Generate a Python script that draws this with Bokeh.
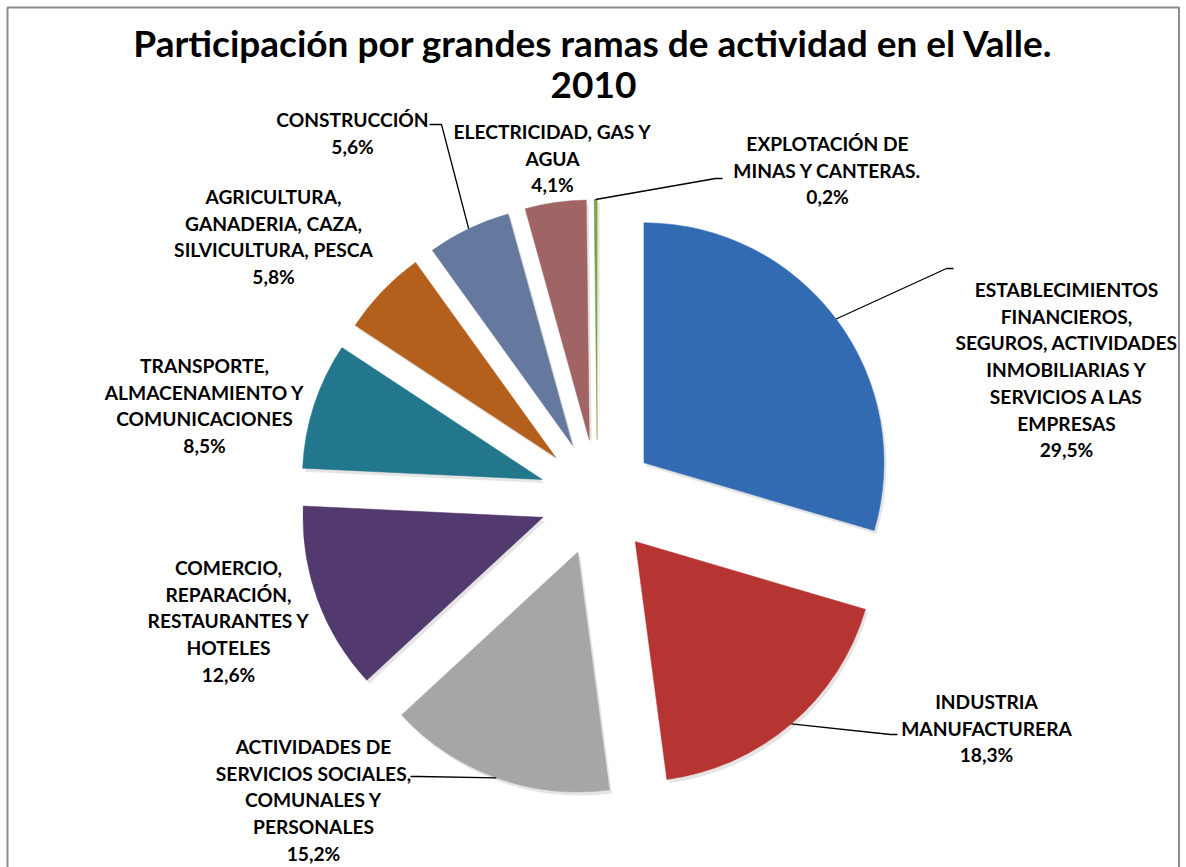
import numpy as np
from bokeh.plotting import figure
from bokeh.models import Range1d, ColumnDataSource
from bokeh.core.properties import value
from bokeh.embed import file_html
from bokeh.resources import INLINE

# ---------------- data ----------------
categories = [
    "ESTABLECIMIENTOS FINANCIEROS, SEGUROS, ACTIVIDADES INMOBILIARIAS Y SERVICIOS A LAS EMPRESAS",
    "INDUSTRIA MANUFACTURERA",
    "ACTIVIDADES DE SERVICIOS SOCIALES, COMUNALES Y PERSONALES",
    "COMERCIO, REPARACIÓN, RESTAURANTES Y HOTELES",
    "TRANSPORTE, ALMACENAMIENTO Y COMUNICACIONES",
    "AGRICULTURA, GANADERIA, CAZA, SILVICULTURA, PESCA",
    "CONSTRUCCIÓN",
    "ELECTRICIDAD, GAS Y AGUA",
    "EXPLOTACIÓN DE MINAS Y CANTERAS.",
]
shares = [29.5, 18.3, 15.2, 12.6, 8.5, 5.8, 5.6, 4.1, 0.2]
label_lines = [
    ["ESTABLECIMIENTOS", "FINANCIEROS,", "SEGUROS, ACTIVIDADES", "INMOBILIARIAS Y", "SERVICIOS A LAS", "EMPRESAS"],
    ["INDUSTRIA", "MANUFACTURERA"],
    ["ACTIVIDADES DE", "SERVICIOS SOCIALES,", "COMUNALES Y", "PERSONALES"],
    ["COMERCIO,", "REPARACIÓN,", "RESTAURANTES Y", "HOTELES"],
    ["TRANSPORTE,", "ALMACENAMIENTO Y", "COMUNICACIONES"],
    ["AGRICULTURA,", "GANADERIA, CAZA,", "SILVICULTURA, PESCA"],
    ["CONSTRUCCIÓN"],
    ["ELECTRICIDAD, GAS Y", "AGUA"],
    ["EXPLOTACIÓN DE", "MINAS Y CANTERAS."],
]
title_lines = ["Participación por grandes ramas de actividad en el Valle.", "2010"]

colors = ["#336bb2", "#b63432", "#a6a6a6", "#52396e", "#23778c",
          "#b45f1c", "#65799f", "#a16464", "#7ea24b"]

# ---------------- layout (pixel-like coordinates, y up) ----------------
W, H = 1186, 867
TOP = 867                      # y_data = TOP - y_pixel
cx, cy = 597, TOP - 497        # pie centre
R = 240                        # radius
EXPLODE = 58                   # explosion distance

FONT = "Lato"
LBL_SIZE = "19.2px"
LINE_H = 26.7

# label anchor: (centre x, pixel y of first line)
label_pos = [
    (1066, 289), (986, 701), (313, 746), (228, 567), (204, 365),
    (273, 196), (352, 119), (552, 131), (827, 143),
]
# leader lines: (elbow px, end px) or None
leaders = [
    ((946, 268), (953, 268)),
    ((890, 734), (897, 734)),
    ((418, 776), (410, 776)),
    None, None, None,
    ((441, 124), (429, 124)),
    None,
    ((715, 178), (722, 178)),
]

p = figure(width=W, height=H, x_range=Range1d(0, W), y_range=Range1d(0, H),
           output_backend="svg", toolbar_location=None, min_border=0)
p.axis.visible = False
p.grid.visible = False
p.outline_line_color = None
p.background_fill_color = "white"
p.border_fill_color = "white"

# frame (left, top, right)
p.line([7, 7, 1178.5, 1178.5], [-10, TOP - 7, TOP - 7, -10], line_color="#8e8e8e", line_width=2)

vals = np.array(shares, dtype=float)
frac = vals / vals.sum()
ends = np.cumsum(frac) * 2 * np.pi
starts = ends - frac * 2 * np.pi
mids = (starts + ends) / 2
ax = cx + EXPLODE * np.sin(mids)
ay = cy + EXPLODE * np.cos(mids)

src = ColumnDataSource(dict(
    x=ax, y=ay,
    sx=ax + 2.5, sy=ay - 3.5,
    start=np.pi / 2 - starts, end=np.pi / 2 - ends,
    color=colors, cat=categories,
))

# soft shadow
p.wedge(x="sx", y="sy", radius=R, start_angle="start", end_angle="end", direction="clock",
        fill_color="black", fill_alpha=0.10, line_color=None, source=src)
p.wedge(x="x", y="y", radius=R, start_angle="start", end_angle="end", direction="clock",
        fill_color="color", line_color="color", line_width=0.5, source=src)

# leader lines from the middle of each slice's arc
for i, ld in enumerate(leaders):
    if ld is None:
        continue
    sx0 = ax[i] + R * np.sin(mids[i])
    sy0 = ay[i] + R * np.cos(mids[i])
    (ex, ey), (fx, fy) = ld
    p.line([sx0, ex, fx], [sy0, TOP - ey, TOP - fy], line_color="black", line_width=1.3)

# labels
tx, ty, tt = [], [], []
for i, lines in enumerate(label_lines):
    lx, ly = label_pos[i]
    pct = f"{shares[i]:.1f}".replace(".", ",") + "%"
    for k, s in enumerate(lines + [pct]):
        tx.append(lx)
        ty.append(TOP - (ly + k * LINE_H))
        tt.append(s)
p.text(x=tx, y=ty, text=tt, text_font=value(FONT), text_font_style="bold",
       text_font_size=LBL_SIZE, text_align="center", text_baseline="middle", text_color="black")

# title
p.text(x=[593, 593], y=[TOP - 42, TOP - 84], text=title_lines, text_font=value(FONT),
       text_font_style="bold", text_font_size="37px", text_align="center",
       text_baseline="middle", text_color="black")

open("out.html", "w").write(file_html(p, INLINE))
